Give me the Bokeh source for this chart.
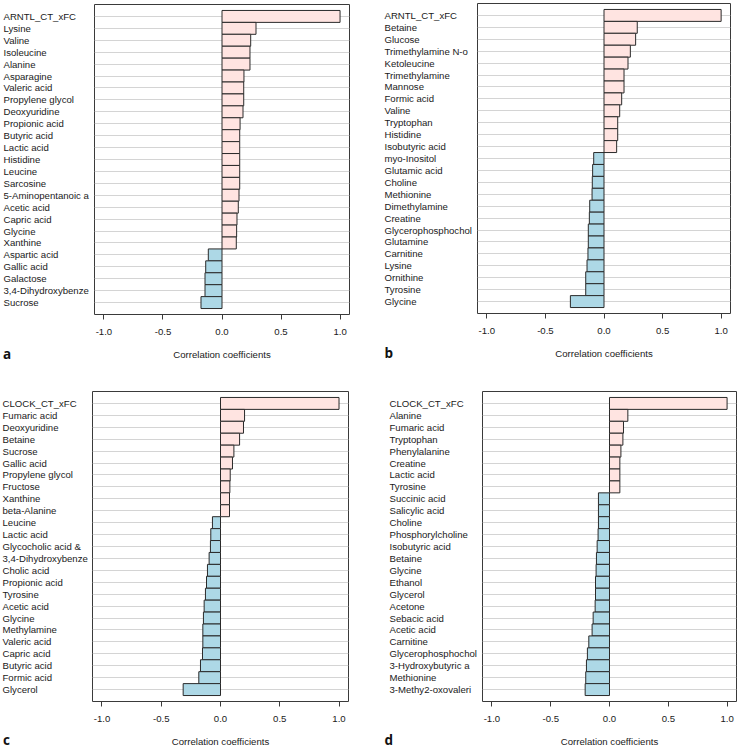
from bokeh.plotting import figure
from bokeh.layouts import row, column
from bokeh.models import (ColumnDataSource, FixedTicker, PrintfTickFormatter,
                          Grid, Range1d)
from bokeh.core.properties import value
from bokeh.embed import file_html
from bokeh.resources import INLINE

# ---------------- data ----------------
a_names = ["ARNTL_CT_xFC", "Lysine", "Valine", "Isoleucine", "Alanine", "Asparagine",
           "Valeric acid", "Propylene glycol", "Deoxyuridine", "Propionic acid",
           "Butyric acid", "Lactic acid", "Histidine", "Leucine", "Sarcosine",
           "5-Aminopentanoic a", "Acetic acid", "Capric acid", "Glycine", "Xanthine",
           "Aspartic acid", "Gallic acid", "Galactose", "3,4-Dihydroxybenze", "Sucrose"]
a_values = [1.0, 0.288, 0.243, 0.237, 0.237, 0.186, 0.184, 0.184, 0.178, 0.153,
            0.150, 0.150, 0.150, 0.150, 0.150, 0.144, 0.138, 0.127, 0.124, 0.121,
            -0.116, -0.138, -0.144, -0.144, -0.178]

b_names = ["ARNTL_CT_xFC", "Betaine", "Glucose", "Trimethylamine N-o", "Ketoleucine",
           "Trimethylamine", "Mannose", "Formic acid", "Valine", "Tryptophan",
           "Histidine", "Isobutyric acid", "myo-Inositol", "Glutamic acid", "Choline",
           "Methionine", "Dimethylamine", "Creatine", "Glycerophosphochol", "Glutamine",
           "Carnitine", "Lysine", "Ornithine", "Tyrosine", "Glycine"]
b_values = [1.0, 0.284, 0.270, 0.225, 0.205, 0.171, 0.171, 0.151, 0.134, 0.117,
            0.117, 0.108, -0.088, -0.097, -0.100, -0.102, -0.122, -0.125, -0.134, -0.134,
            -0.137, -0.145, -0.156, -0.156, -0.287]

c_names = ["CLOCK_CT_xFC", "Fumaric acid", "Deoxyuridine", "Betaine", "Sucrose",
           "Gallic acid", "Propylene glycol", "Fructose", "Xanthine", "beta-Alanine",
           "Leucine", "Lactic acid", "Glycocholic acid &", "3,4-Dihydroxybenze",
           "Cholic acid", "Propionic acid", "Tyrosine", "Acetic acid", "Glycine",
           "Methylamine", "Valeric acid", "Capric acid", "Butyric acid", "Formic acid",
           "Glycerol"]
c_values = [1.0, 0.203, 0.194, 0.161, 0.113, 0.101, 0.082, 0.079, 0.076, 0.076,
            -0.068, -0.082, -0.085, -0.096, -0.110, -0.118, -0.127, -0.138, -0.144,
            -0.149, -0.149, -0.152, -0.169, -0.183, -0.315]

d_names = ["CLOCK_CT_xFC", "Alanine", "Fumaric acid", "Tryptophan", "Phenylalanine",
           "Creatine", "Lactic acid", "Tyrosine", "Succinic acid", "Salicylic acid",
           "Choline", "Phosphorylcholine", "Isobutyric acid", "Betaine", "Glycine",
           "Ethanol", "Glycerol", "Acetone", "Sebacic acid", "Acetic acid", "Carnitine",
           "Glycerophosphochol", "3-Hydroxybutyric a", "Methionine", "3-Methy2-oxovaleri"]
d_values = [1.0, 0.156, 0.119, 0.114, 0.097, 0.088, 0.088, 0.088, -0.094, -0.094,
            -0.094, -0.097, -0.105, -0.111, -0.114, -0.119, -0.119, -0.122, -0.139,
            -0.148, -0.176, -0.188, -0.196, -0.202, -0.207]

x_ticks = [-1.0, -0.5, 0.0, 0.5, 1.0]
x_title = "Correlation coefficients"
panel_letters = ["a", "b", "c", "d"]

# ---------------- styling ----------------
X_START, X_END = -1.08, 1.08
FONT = "Liberation Sans"
FSIZE = "9.6px"
TXT = "#1a1a1a"
POS_COLOR = "#FFE4E1"
NEG_COLOR = "#ADD8E6"
ROW_H = 375
FRAME_H = 310


def panel(names, values, letter, label_w, bar_w, top, right, label_x, letter_x, letter_drop):
    n = len(names)
    ys = [n - i for i in range(n)]
    colors = [POS_COLOR if v >= 0 else NEG_COLOR for v in values]
    src = ColumnDataSource(dict(y=ys, v=values, name=names, color=colors))
    bottom = ROW_H - top - FRAME_H
    y0, y1 = 0, n + 1
    ppu = FRAME_H / (y1 - y0)

    # ---- bar chart ----
    p = figure(width=bar_w, height=ROW_H,
               x_range=Range1d(X_START, X_END), y_range=Range1d(y0, y1),
               output_backend="svg", toolbar_location=None, tools="",
               y_axis_location=None)
    p.frame_align = False
    p.min_border_left = 1
    p.min_border_right = right
    p.min_border_top = top
    p.min_border_bottom = bottom
    p.background_fill_color = "white"
    p.border_fill_color = "white"
    p.outline_line_color = "#3a3a3a"
    p.outline_line_width = 1

    p.grid.visible = False
    p.add_layout(Grid(dimension=1, ticker=FixedTicker(ticks=ys),
                      grid_line_color="#d4d4d4", grid_line_width=1))

    p.hbar(y="y", left=0, right="v", height=1, fill_color="color",
           line_color="#2a2a2a", line_width=1, source=src)

    ax = p.xaxis[0]
    ax.ticker = FixedTicker(ticks=x_ticks)
    ax.formatter = PrintfTickFormatter(format="%.1f")
    ax.minor_tick_line_color = None
    ax.axis_line_color = None
    ax.major_tick_line_color = "#3a3a3a"
    ax.major_tick_in = 0
    ax.major_tick_out = 5
    ax.major_label_standoff = 9
    ax.major_label_text_font = FONT
    ax.major_label_text_font_size = FSIZE
    ax.major_label_text_color = TXT
    ax.axis_label = x_title
    ax.axis_label_standoff = 11
    ax.axis_label_text_font = FONT
    ax.axis_label_text_font_size = FSIZE
    ax.axis_label_text_font_style = "normal"
    ax.axis_label_text_color = TXT

    # ---- label column (same y scale as the bar chart) ----
    q = figure(width=label_w, height=ROW_H,
               x_range=Range1d(0, label_w),
               y_range=Range1d(y0 - bottom / ppu, y1 + top / ppu),
               output_backend="svg", toolbar_location=None, tools="",
               x_axis_location=None, y_axis_location=None)
    q.frame_align = False
    q.min_border_left = q.min_border_right = 0
    q.min_border_top = q.min_border_bottom = 0
    q.outline_line_color = None
    q.background_fill_color = "white"
    q.border_fill_color = "white"
    q.grid.visible = False
    q.text(x=label_x, y="y", text="name", source=src,
           text_align="left", text_baseline="middle",
           text_font=value(FONT), text_font_size=value(FSIZE), text_color=TXT)
    q.text(x=[letter_x], y=[y0 - letter_drop / ppu], text=[letter],
           text_align="left", text_baseline="bottom",
           text_font=value("Open Sans"), text_font_size=value("13.5px"),
           text_font_style="bold", text_color="#111111")
    return q, p


qa, pa = panel(a_names, a_values, panel_letters[0], 93, 276, 4, 20, 3, 2.5, 48)
qb, pb = panel(b_names, b_values, panel_letters[1], 107, 262, 3, 8, 15, 15, 48)
qc, pc = panel(c_names, c_values, panel_letters[2], 91, 278, 16, 21, 2, 2.5, 47.5)
qd, pd = panel(d_names, d_values, panel_letters[3], 112, 257, 16, 2, 20, 15, 47.5)

layout = column(row(qa, pa, qb, pb), row(qc, pc, qd, pd))

open("out.html", "w").write(file_html(layout, INLINE))
